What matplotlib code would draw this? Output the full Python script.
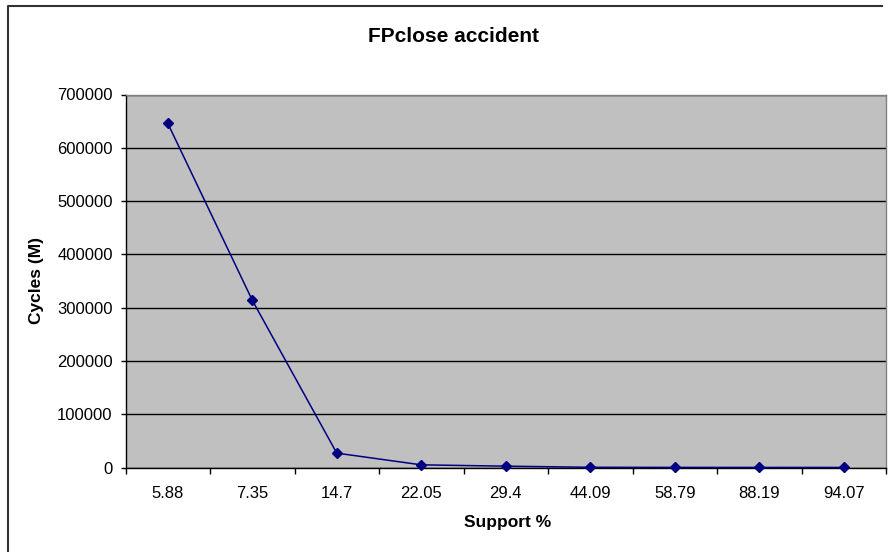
import matplotlib
matplotlib.use("Agg")
import matplotlib.pyplot as plt
from matplotlib.lines import Line2D
from matplotlib.ticker import MultipleLocator, FixedLocator, FuncFormatter

plt.rcParams['font.family'] = ['Liberation Sans', 'DejaVu Sans']

support = ["5.88", "7.35", "14.7", "22.05", "29.4", "44.09", "58.79", "88.19", "94.07"]
cycles = [646000, 314000, 27000, 5000, 2500, 400, 200, 150, 100]

W, H = 890, 552
fig = plt.figure(figsize=(W / 100, H / 100), dpi=100)

# outer chart frame: left and top edges
fx0, fy0, fx1 = 8 / W, 1 - 6 / H, 882 / W
fig.lines.append(Line2D([fx0, fx0, fx1], [-0.05, fy0, fy0], transform=fig.transFigure,
                        color="#333333", linewidth=1.5, zorder=0))

left, right, top, bottom = 125.5, 886, 94.5, 467.5
ax = fig.add_axes([left / W, 1 - bottom / H, (right - left) / W, (bottom - top) / H])
ax.set_facecolor("#C0C0C0")

x = list(range(len(support)))
ax.plot(x, cycles, color="#000080", linewidth=1.1, marker="D", markersize=5.5,
        markerfacecolor="#000080", markeredgecolor="#000080", zorder=3, clip_on=False)

ax.set_xlim(-0.5, len(support) - 0.5)
ax.set_ylim(0, 700000)
ax.yaxis.set_major_locator(MultipleLocator(100000))
ax.grid(axis="y", color="black", linewidth=1.0)
ax.set_axisbelow(True)

ax.xaxis.set_major_locator(FixedLocator(x))
ax.set_xticklabels(support)
ax.xaxis.set_minor_locator(FixedLocator([i - 0.5 for i in range(len(support) + 1)]))
ax.tick_params(axis="x", which="major", length=0, pad=13.5, labelsize=12)
ax.tick_params(axis="x", which="minor", length=4.3, width=1, direction="out", color="black")
ax.tick_params(axis="y", length=3.6, width=1, direction="out", color="black", labelsize=12, pad=5.6)
ax.yaxis.set_major_formatter(FuncFormatter(lambda v, p: f"{int(v)}"))

for s in ("top", "right"):
    ax.spines[s].set_color("#808080")
    ax.spines[s].set_linewidth(1.0)
for s in ("left", "bottom"):
    ax.spines[s].set_color("black")
    ax.spines[s].set_linewidth(1.0)

fig.text(453 / W, 1 - 37 / H, "FPclose accident", ha="center", va="center",
         fontsize=15, fontweight="bold")
fig.text(508 / W, 1 - 522 / H, "Support %", ha="center", va="center",
         fontsize=12.5, fontweight="bold")
fig.text(37 / W, 1 - 281 / H, "Cycles (M)", ha="center", va="center",
         rotation=90, fontsize=12.5, fontweight="bold")

fig.savefig("out.png", dpi=100)
